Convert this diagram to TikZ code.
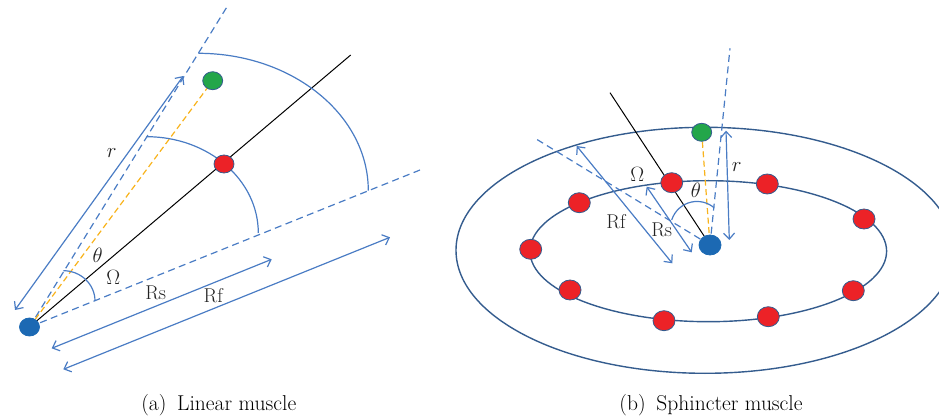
\documentclass[tikz,border=0pt]{standalone}
\usetikzlibrary{arrows.meta,shapes.geometric}
\definecolor{lblue}{HTML}{4A7CC4}
\definecolor{eblue}{HTML}{345C8E}
\definecolor{dred}{HTML}{EC2227}
\definecolor{dgreen}{HTML}{23A64A}
\definecolor{dblue}{HTML}{1C69B3}
\definecolor{dorange}{HTML}{F8B31C}
\definecolor{txt}{HTML}{222222}
\begin{document}
\begin{tikzpicture}[x=1pt,y=-1pt,
  dot/.style={ellipse,draw=eblue,line width=0.8pt,inner sep=0pt,minimum width=20pt,minimum height=18pt},
  bigdot/.style={dot,minimum width=22pt,minimum height=20pt},
  dashln/.style={draw=lblue,line width=1.2pt,dash pattern=on 7pt off 4.5pt},
  orln/.style={draw=dorange,line width=1.2pt,dash pattern=on 6pt off 3.5pt},
  blkln/.style={draw=black,line width=1pt},
  arcln/.style={draw=lblue,line width=1.2pt},
  arr/.style={draw=lblue,line width=1.2pt,arrows={Straight Barb[length=6pt,width=11pt]-Straight Barb[length=6pt,width=11pt]}},
  ell/.style={draw=eblue,line width=1.4pt},
  lbl/.style={text=txt,inner sep=0pt,font=\fontsize{20}{22}\selectfont},
  captxt/.style={text=black,inner sep=0pt,font=\fontsize{21.5}{24}\selectfont}]
\useasboundingbox (0,0) rectangle (939,419);
% ---------------- (a) linear muscle ----------------
\coordinate (aUp) at (226.7,7.3);
\coordinate (aLo) at (420,170);
\coordinate (aBl) at (350.7,55);
\node[dot,draw=none] (aB0) at (29.5,327) {};
\node[dot,draw=none] (aR0) at (224,164) {};
\node[dot,draw=none] (aG0) at (212.7,80.7) {};
\draw[dashln] (aB0.center) -- (aUp);
\draw[dashln] (aB0.center) -- (aLo);
\draw[orln] (aB0.center) -- (aG0.center);
\draw[blkln] (aB0.center) -- (aBl);
% arcs
\coordinate (aArcS) at (146.7,136.7);
\coordinate (aArcF) at (198.3,53.3);
\coordinate (aArcT) at (63.3,270.7);
\draw[arcln] (aArcS) arc[start angle=270,end angle=360,x radius=111.6,y radius=96.3];
\draw[arcln] (aArcF) arc[start angle=270,end angle=360,x radius=170,y radius=137.4];
\draw[arcln] (aArcT) arc[start angle=270,end angle=360,x radius=31.7,y radius=30.3];
% arrows
\coordinate (arA) at (15,310);
\coordinate (arB) at (183.3,76);
\coordinate (asA) at (51.7,348.3);
\coordinate (asB) at (271.7,259.3);
\coordinate (afA) at (63.3,369.3);
\coordinate (afB) at (390,237.3);
\draw[arr] (arA) -- (arB);
\draw[arr] (asA) -- (asB);
\draw[arr] (afA) -- (afB);
% dots
\node[dot,fill=dblue,draw=dblue] (aB) at (29.5,327) {};
\node[dot,fill=dred] (aR) at (224,164) {};
\node[dot,fill=dgreen] (aG) at (212.7,80.7) {};
% labels
\node[lbl] (ar) at (111.7,152.7) {$r$};
\node[lbl] (ath) at (97.7,255) {$\theta$};
\node[lbl] (aom) at (113.3,277.3) {$\Omega$};
\node[lbl] (aRs) at (155.7,292.7) {Rs};
\node[lbl] (aRf) at (213.3,296) {Rf};
\node[captxt] (capa) at (218.8,405) {(a)\enspace Linear muscle};
% ---------------- (b) sphincter muscle ----------------
\node[ellipse,ell,minimum width=498pt,minimum height=246pt,inner sep=0pt] (outerE) at (705,250.3) {};
\node[ellipse,ell,minimum width=356.6pt,minimum height=141pt,inner sep=0pt] (innerE) at (708.3,251.2) {};
\coordinate (bUp) at (730,48.3);
\coordinate (bLo) at (535,138.3);
\coordinate (bBl) at (610,92.7);
\node[bigdot,draw=none] (bB0) at (710,245) {};
\node[dot,draw=none] (bG0) at (701.7,132.3) {};
\draw[dashln] (bB0.center) -- (bUp);
\draw[dashln] (bB0.center) -- (bLo);
\draw[orln] (bG0.center) -- (bB0.center);
\draw[blkln] (bB0.center) -- (bBl);
\coordinate (bArcT) at (671.7,220.0);
\draw[arcln] (bArcT) arc[start angle=197.5,end angle=310.6,radius=26.5];
\coordinate (brA) at (726,130.7);
\coordinate (brB) at (729.3,240);
\coordinate (bsA) at (646.7,186.7);
\coordinate (bsB) at (691.7,252.3);
\coordinate (bfA) at (576.7,146);
\coordinate (bfB) at (672.3,263.3);
\draw[arr] (brA) -- (brB);
\draw[arr] (bsA) -- (bsB);
\draw[arr] (bfA) -- (bfB);
% red dots on inner ring
\node[bigdot,fill=dred] (r1) at (671.7,182.7) {};
\node[bigdot,fill=dred] (r2) at (767.3,184) {};
\node[bigdot,fill=dred] (r3) at (864,219) {};
\node[bigdot,fill=dred] (r4) at (853.3,290.7) {};
\node[bigdot,fill=dred] (r5) at (768.3,316.7) {};
\node[bigdot,fill=dred] (r6) at (664,320.7) {};
\node[bigdot,fill=dred] (r7) at (570,290) {};
\node[bigdot,fill=dred] (r8) at (530.7,249.3) {};
\node[bigdot,fill=dred] (r9) at (579.3,202.7) {};
\node[dot,fill=dgreen] (bG) at (701.7,132.3) {};
\node[bigdot,fill=dblue,draw=dblue] (bB) at (710,245) {};
% labels
\node[lbl] (bom) at (637.3,174) {$\Omega$};
\node[lbl] (bth) at (696,190.7) {$\theta$};
\node[lbl] (br) at (736.7,166.7) {$r$};
\node[lbl] (bRf) at (616,221.7) {Rf};
\node[lbl] (bRs) at (661.7,230) {Rs};
\node[captxt] (capb) at (711,405) {(b)\enspace Sphincter muscle};
\end{tikzpicture}
\end{document}
